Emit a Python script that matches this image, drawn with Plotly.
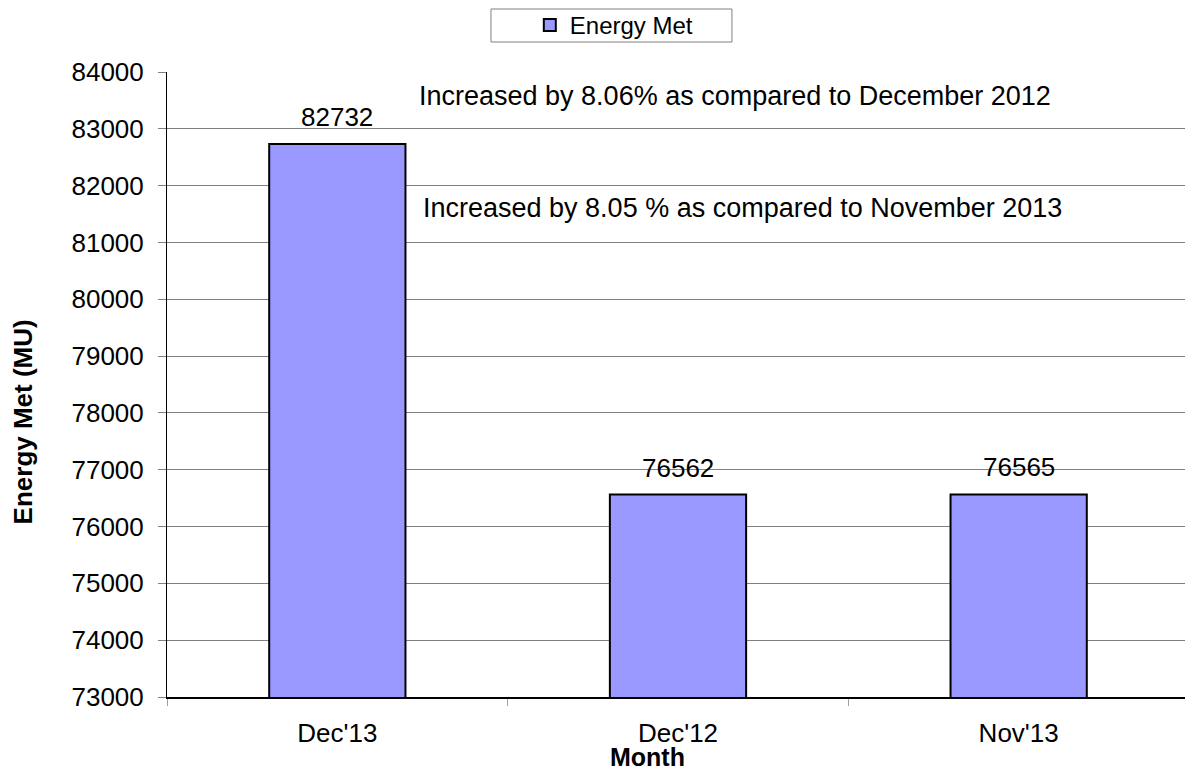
import plotly.graph_objects as go

months = ["Dec'13", "Dec'12", "Nov'13"]
energy_met = [82732, 76562, 76565]
notes = ["Increased by 8.06% as compared to December 2012",
         "Increased by 8.05 % as compared to November 2013"]
note_y = [83578, 81606]
note_x = [1.166, 1.19]

FONT = "Liberation Sans, Arial, sans-serif"
FS = 26

fig = go.Figure()
fig.add_trace(go.Bar(
    x=months, y=energy_met, name="Energy Met",
    marker=dict(color="#9999FF", line=dict(color="black", width=2)),
    width=0.4,
))

for m, v in zip(months, energy_met):
    fig.add_annotation(x=m, y=v, xref="x", yref="y", text=str(v), showarrow=False,
                       yanchor="bottom", yshift=10,
                       font=dict(size=FS, color="black", family=FONT))

for t, yy, xx in zip(notes, note_y, note_x):
    fig.add_annotation(x=xx, y=yy, xref="x", yref="y", text=t, showarrow=False,
                       font=dict(size=27, color="black", family=FONT))

# axis titles
fig.add_annotation(x=0.470, y=-0.0965, xref="paper", yref="paper", text="<b>Month</b>",
                   xanchor="center", yanchor="middle",
                   showarrow=False, font=dict(size=25, color="black", family=FONT))
fig.add_annotation(x=-0.140, y=0.4408, xref="paper", yref="paper",
                   text="<b>Energy Met (MU)</b>", textangle=-90,
                   xanchor="center", yanchor="middle",
                   showarrow=False, font=dict(size=FS, color="black", family=FONT))

fig.update_layout(
    width=1185, height=765,
    margin=dict(l=159, r=4, t=64, b=76, autoexpand=False),
    plot_bgcolor="white", paper_bgcolor="white",
    font=dict(family=FONT, size=FS, color="black"),
    showlegend=True,
    legend=dict(orientation="h", x=0.355, xanchor="left", y=1.0744, yanchor="middle",
                bgcolor="rgba(0,0,0,0)", borderwidth=0,
                font=dict(size=24, family=FONT, color="black")),
)
# legend frame
fig.add_shape(type="rect", xref="paper", yref="paper", x0=0.317, x1=0.5528,
              y0=1.048, y1=1.1008, line=dict(color="#808080", width=1), layer="below")

fig.update_yaxes(range=[73000, 84000], dtick=1000, showgrid=True, gridcolor="#808080",
                 gridwidth=1, showline=True, linecolor="black", linewidth=1,
                 ticks="outside", ticklen=8, tickcolor="#808080", ticklabelstandoff=9,
                 tickfont=dict(size=FS), tickformat="d", automargin=False)
fig.update_xaxes(showline=True, linecolor="black", linewidth=2, ticks="outside",
                 tickson="boundaries", ticklen=7, tickcolor="#A0A0A0", ticklabelstandoff=12,
                 tickfont=dict(size=FS), automargin=False)
fig.add_shape(type="line", xref="paper", yref="paper", x0=1, x1=1, y0=0, y1=1,
              line=dict(color="#808080", width=2))

fig.write_html("out.html")
